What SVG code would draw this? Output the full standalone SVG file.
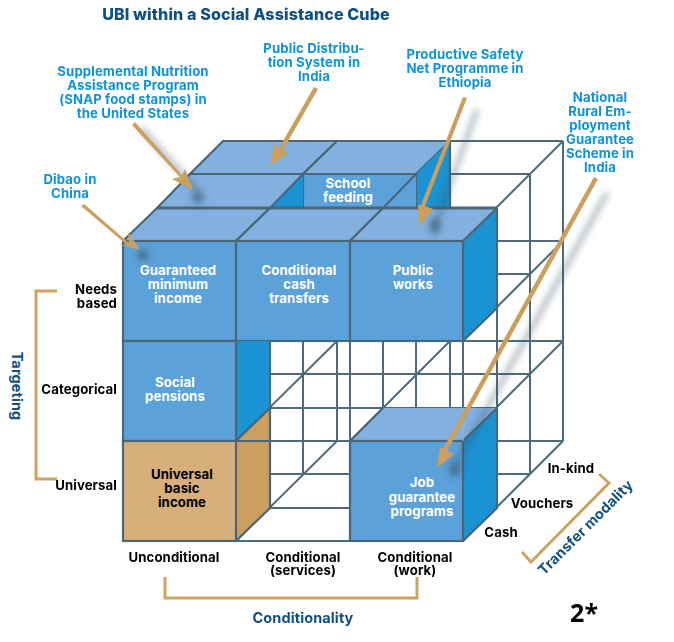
<svg xmlns="http://www.w3.org/2000/svg" width="674" height="642" viewBox="0 0 674 642">
<style>
.g{stroke:#4f6b7b;stroke-width:2;fill:none}
.e{stroke:#4a6677;stroke-width:2.2;stroke-linejoin:miter}
.fr{fill:#5ba2da}.tp{fill:#82b1df}.sd{fill:#1b92d1}
text{font-family:"Inter","Liberation Sans",sans-serif;font-weight:700;font-size:13.2px;letter-spacing:.1px}
.n{fill:#fff;text-anchor:middle}
.b{fill:#000;text-anchor:middle}
.r{fill:#000;text-anchor:end}
.c{fill:#0f93d8;text-anchor:middle}
.t{font-size:14.5px;fill:#0f4f83;text-anchor:middle}
.br{fill:none;stroke:#cda263;stroke-width:3}
.ar{fill:#cc9f5e}
.sh{stroke:#36505f;stroke-width:5;fill:none;opacity:.4}
.sb{fill:#36505f;opacity:.55}
</style>
<defs>
<filter id="bl" x="-50%" y="-50%" width="200%" height="200%"><feGaussianBlur stdDeviation="3"/></filter>
</defs>
<rect width="674" height="642" fill="#fff"/>
<g id="connectors-grid">
<path class="g" d="M270 508V208M303 474V174M337 441V141M383 508V208M416 474V174M450 441V141M497 508V208M530 474V174M563 441V141M350 441V341M463 541V241"/>
<path class="g" d="M156 508H497M190 474H530M223 441H563M236 441H463M156 408H497M190 374H530M223 341H563M123 341H463M190 274H530M223 241H563M156 308H497M190 174H530M223 141H563M156 208H497M236 541H350"/>
<path class="g" d="M236 541L337 441M350 541L450 441M463 541L563 441M236 441L337 341M350 441L450 341M463 441L563 341M463 341L563 241M463 241L563 141"/>
</g>
<g id="node-top-back">
<polygon class="tp e" points="190,174 303,174 337,141 223,141"/>
<polygon class="tp e" points="303,174 416,174 450,141 337,141"/>
<polygon class="sd" points="416,174 450,141 450,208 416,208"/>
<path class="e" d="M450 141V208M416 174V208" fill="none"/>
</g>
<g id="node-school-feeding">
<polygon class="fr" points="303,174 416,174 416,208 303,208"/>
<path class="e" d="M303 174H416M303 174V208M416 174L383 208" fill="none"/>
<text class="n" text-anchor="middle"><tspan x="348" y="188">School</tspan><tspan x="348" y="202">feeding</tspan></text>
</g>
<g id="node-snap">
<polygon class="sd" points="270,208 303,174 303,208"/>
<polygon class="tp" points="157,208 270,208 303,174 190,174"/>
<path class="e" d="M157 208L190 174H303L270 208" fill="none"/>
</g>
<g id="node-guaranteed">
<polygon class="tp" points="123,241 236,241 270,208 157,208"/>
<rect class="fr e" x="123" y="241" width="113" height="100"/>
<path class="e" d="M123 241L157 208H270L236 241" fill="none"/>
<text class="n"><tspan x="178" y="275">Guaranteed</tspan><tspan x="178" y="289">minimum</tspan><tspan x="178" y="303">income</tspan></text>
</g>
<g id="node-conditional-cash">
<polygon class="tp" points="236,241 350,241 383,208 270,208"/>
<rect class="fr e" x="236" y="241" width="114" height="100"/>
<path class="e" d="M236 241L270 208H383L350 241" fill="none"/>
<text class="n"><tspan x="299" y="275">Conditional</tspan><tspan x="299" y="289">cash</tspan><tspan x="299" y="303">transfers</tspan></text>
</g>
<g id="node-public-works">
<polygon class="tp" points="350,241 463,241 497,208 383,208"/>
<polygon class="sd" points="463,241 497,208 497,308 463,341"/>
<rect class="fr e" x="350" y="241" width="113" height="100"/>
<path class="e" d="M350 241L383 208M497 208V308L463 341M463 241L497 208" fill="none"/>
<path d="M157 208H497" stroke="#4a6677" stroke-width="3" fill="none"/>
<text class="n"><tspan x="413" y="275">Public</tspan><tspan x="413" y="289">works</tspan></text>
</g>
<g id="node-social-pensions">
<polygon class="sd" points="236,341 270,341 270,408 236,441"/>
<rect class="fr e" x="123" y="341" width="113" height="100"/>
<path class="e" d="M270 341V408L236 441" fill="none"/>
<text class="n"><tspan x="175" y="387">Social</tspan><tspan x="175" y="401">pensions</tspan></text>
</g>
<g id="node-ubi">
<polygon fill="#cc9f5e" points="236,441 270,408 270,508 236,541"/>
<rect fill="#d6af7a" class="e" x="123" y="441" width="113" height="100"/>
<path class="e" d="M236 441L270 408V508L236 541M236 441H270" fill="none"/>
<text class="b"><tspan x="182" y="479">Universal</tspan><tspan x="182" y="493">basic</tspan><tspan x="182" y="507">income</tspan></text>
</g>
<g id="node-job-guarantee">
<polygon class="tp" points="350,441 463,441 497,408 383,408"/>
<polygon class="sd" points="463,441 497,408 497,508 463,541"/>
<rect class="fr e" x="350" y="441" width="113" height="100"/>
<path class="e" d="M350 441L383 408M497 408V508L463 541M463 441L497 408" fill="none"/>
<path d="M463 441V408" stroke="#9fb4c4" stroke-width="1.2"/>
<text class="n"><tspan x="422" y="487">Job</tspan><tspan x="422" y="502">guarantee</tspan><tspan x="422" y="516">programs</tspan></text>
</g>
<g id="connectors-arrows">
<g filter="url(#bl)">
<path class="sh" d="M141 128L197 190"/><ellipse class="sb" cx="198" cy="197" rx="6" ry="7"/>
<ellipse class="sb" cx="143" cy="255" rx="6" ry="6"/>
<path class="sh" d="M477 110L434 228"/><ellipse class="sb" cx="435" cy="226" rx="6" ry="8"/>
<path class="sh" d="M607 193L457 462"/><ellipse class="sb" cx="455" cy="469" rx="6" ry="8"/>
</g>
<polygon class="ar" points="81,206 84,204 129,243 128,232 140,250 118,244 127,245"/>
<polygon class="ar" points="132,125 135,122 182,175 185,169 193,190 172,179 180,177"/>
<polygon class="ar" points="314,87 318,89 283,150 288,153 270,166 274,144 279,148"/>
<polygon class="ar" points="463,97 467,98 425,206 433,209 419,227 418,205 421,205"/>
<polygon class="ar" points="594,177 598,179 447,451 454,454 437,468 440,447 443,449"/>
</g>
<g id="brackets">
<path class="br" d="M57 291H36V479H57"/>
<path class="br" d="M165 577V598H417V577"/>
<path class="br" d="M599 474L609 483L531 562L522 552"/>
</g>
<g id="labels">
<text x="246" y="20" style="font-size:16.1px;fill:#0f4f83;text-anchor:middle;font-weight:800">UBI within a Social Assistance Cube</text>
<text class="c"><tspan x="133" y="76">Supplemental Nutrition</tspan><tspan x="133" y="90">Assistance Program</tspan><tspan x="133" y="104">(SNAP food stamps) in</tspan><tspan x="133" y="118">the United States</tspan></text>
<text class="c"><tspan x="314" y="53">Public Distribu-</tspan><tspan x="314" y="67">tion System in</tspan><tspan x="314" y="81">India</tspan></text>
<text class="c"><tspan x="465" y="59">Productive Safety</tspan><tspan x="465" y="73">Net Programme in</tspan><tspan x="465" y="87">Ethiopia</tspan></text>
<text class="c"><tspan x="600" y="102">National</tspan><tspan x="600" y="116">Rural Em-</tspan><tspan x="600" y="130">ployment</tspan><tspan x="600" y="144">Guarantee</tspan><tspan x="600" y="158">Scheme in</tspan><tspan x="600" y="172">India</tspan></text>
<text class="c"><tspan x="70" y="184">Dibao in</tspan><tspan x="70" y="198">China</tspan></text>
<text class="r"><tspan x="117" y="294">Needs</tspan><tspan x="117" y="308">based</tspan></text>
<text class="r" x="117" y="394">Categorical</text>
<text class="r" x="117" y="490">Universal</text>
<text class="b" x="174" y="562">Unconditional</text>
<text class="b"><tspan x="303" y="562">Conditional</tspan><tspan x="303" y="575">(services)</tspan></text>
<text class="b"><tspan x="415" y="562">Conditional</tspan><tspan x="415" y="575">(work)</tspan></text>
<text class="b" x="501" y="537">Cash</text>
<text class="b" x="542" y="508">Vouchers</text>
<text class="b" x="571" y="473">In-kind</text>
<text class="t" x="303" y="623">Conditionality</text>
<text class="t" transform="translate(12 386) rotate(90)">Targeting</text>
<text class="t" transform="translate(589 531) rotate(-45)">Transfer modality</text>
<text x="570" y="622" style="font-family:'Open Sans','Noto Sans',sans-serif;font-size:25px;fill:#000;font-weight:700">2*</text>
</g>
</svg>
